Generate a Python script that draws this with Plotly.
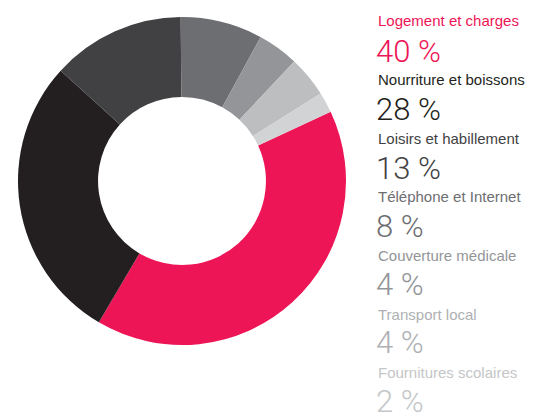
import plotly.graph_objects as go

labels = ["Logement et charges", "Nourriture et boissons", "Loisirs et habillement",
          "Téléphone et Internet", "Couverture médicale", "Transport local",
          "Fournitures scolaires"]
values = [40, 28, 13, 8, 4, 4, 2]
pct_text = ["40 %", "28 %", "13 %", "8 %", "4 %", "4 %", "2 %"]
colors = ["#ED1556", "#231F20", "#414143", "#6D6E71", "#939598", "#BCBEC0", "#D1D3D4"]
text_colors = ["#ED1556", "#231F20", "#414143", "#6D6E71", "#939598", "#AEB0B3", "#C4C6C8"]

# page body has an 8px margin: work in figure coords = screen coords - 8
OFF = 8
W, H = 534 - OFF, 417 - OFF
fig = go.Figure()
fig.add_trace(go.Pie(
    labels=labels, values=values, sort=False, direction="clockwise", rotation=65,
    hole=0.512, marker=dict(colors=colors, line=dict(width=0)),
    textinfo="none", hoverinfo="none", showlegend=False,
    domain=dict(x=[(18 - OFF) / W, (346 - OFF) / W],
                y=[(H - (345 - OFF)) / H, (H - (17 - OFF)) / H]),
))

x0 = (377 - OFF) / W
lab_size = 15
pct_size = 31
for i, (lab, pt, c) in enumerate(zip(labels, pct_text, text_colors)):
    lab_base = 26 + 58.7 * i - OFF
    pct_base = 62 + 58.3 * i - OFF
    fig.add_annotation(x=x0 - 1 / W, y=1 - (lab_base - 0.35 * lab_size) / H, xref="paper", yref="paper",
                       xanchor="left", yanchor="middle", showarrow=False, text=lab,
                       font=dict(family="Liberation Sans", size=lab_size, color=c))
    fig.add_annotation(x=x0 - 3 / W, y=1 - (pct_base - 0.34 * pct_size) / H, xref="paper", yref="paper",
                       xanchor="left", yanchor="middle", showarrow=False, text=pt,
                       font=dict(family="Roboto", weight=300, size=pct_size, color=c))

fig.update_layout(width=W, height=H, margin=dict(l=0, r=0, t=0, b=0),
                  paper_bgcolor="white", plot_bgcolor="white")
fig.write_html("out.html")
